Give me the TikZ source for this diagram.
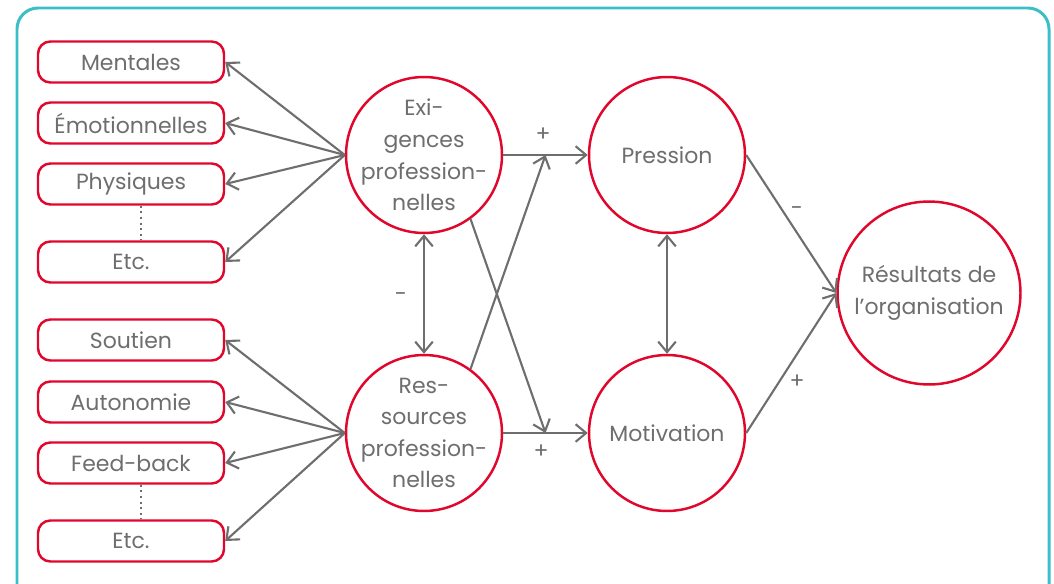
\documentclass[tikz,border=0pt]{standalone}
\usepackage{fontspec}
\setmainfont{Poppins}
\usetikzlibrary{positioning,arrows.meta,calc}
\definecolor{rim}{HTML}{3CBEC6}
\definecolor{crimson}{HTML}{E1062C}
\definecolor{ash}{HTML}{6E6E6E}
\tikzset{
  arr/.style={-{Straight Barb[length=6pt,width=10pt]}, line width=1.2pt, color=ash},
  darr/.style={{Straight Barb[length=6pt,width=10pt]}-{Straight Barb[length=6pt,width=10pt]}, line width=1.2pt, color=ash},
  tag/.style={rounded corners=7pt, draw=crimson, line width=1.4pt, fill=white,
    minimum width=3.72cm, minimum height=0.82cm, inner sep=0pt, text=ash, font=\fontsize{12.5}{14}\selectfont},
  bub/.style={circle, draw=crimson, line width=1.4pt, fill=white, minimum size=#1,
    inner sep=-20pt, align=center, text=ash, font=\fontsize{12.5}{18}\selectfont},
  bub/.default=3.12cm,
  sgn/.style={text=ash, font=\fontsize{12.5}{14}\selectfont},
  dots/.style={dotted, line width=1.2pt, color=ash},
}
\begin{document}
\begin{tikzpicture}[x=0.02cm,y=-0.02cm]
  \useasboundingbox (0,0) rectangle (1054,584);
  \clip (0,0) rectangle (1054,584);
  \draw[rim, line width=1.7pt, rounded corners=12pt] (17,8) rectangle (1049,610);
  % boxes on the left
  \node[tag] (ment) at (131,62) {Mentales};
  \node[tag] (emo)  at (131,123) {Émotionnelles};
  \node[tag] (phys) at (131,184) {Physiques};
  \node[tag] (etca) at (131,262) {Etc.};
  \node[tag] (sout) at (131,340) {Soutien};
  \node[tag] (auto) at (131,402) {Autonomie};
  \node[tag] (feed) at (131,463) {Feed-back};
  \node[tag] (etcb) at (131,541) {Etc.};
  \draw[dots] ($(phys.south)+(10,0)$) -- ($(etca.north)+(10,0)$);
  \draw[dots] ($(feed.south)+(10,0)$) -- ($(etcb.north)+(10,0)$);
  % circles
  \node[bub] (exi)  at (424,155) {Exi-\\gences\\profession-\\nelles};
  \node[bub] (res)  at (424,433) {Res-\\sources\\profession-\\nelles};
  \node[bub] (pres) at (667,155) {Pression};
  \node[bub] (mot)  at (667,433) {Motivation};
  \node[bub=3.66cm] (out) at (929,293) {Résultats de\\l’organisation};
  \foreach \b in {ment,emo,phys,etca} \draw[arr] (exi.west) -- (\b.east);
  \foreach \b in {sout,auto,feed,etcb} \draw[arr] (res.west) -- (\b.east);
  \coordinate (up) at ($(exi.east)!0.5!(pres.west)$);
  \coordinate (dn) at ($(res.east)!0.5!(mot.west)$);
  \draw[arr] (exi.east) -- (pres.west);
  \draw[arr] (res.east) -- (mot.west);
  \draw[arr] (res.54) -- (up);
  \draw[arr] (exi.-54) -- (dn);
  \draw[darr] (exi.south) -- (res.north);
  \draw[darr] (pres.south) -- (mot.north);
  \draw[arr] (pres.east) -- (out.west);
  \draw[arr] (mot.east) -- (out.west);
  \node[sgn] (s1) at (543,135) {+};
  \node[sgn] (s2) at (541,452) {+};
  \node[sgn] (s3) at (401,297) {-};
  \node[sgn] (s4) at (797,211) {-};
  \node[sgn] (s5) at (797,382) {+};
\end{tikzpicture}
\end{document}
